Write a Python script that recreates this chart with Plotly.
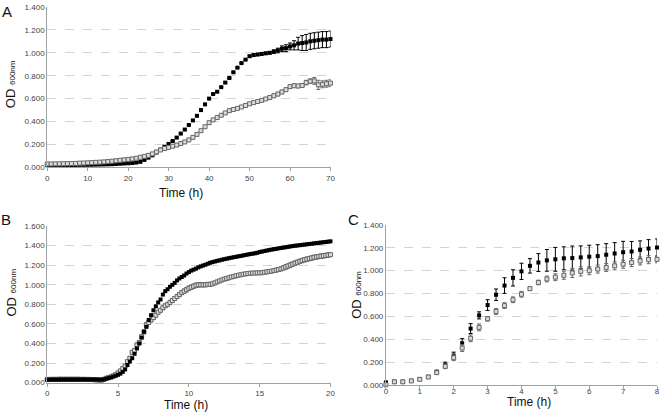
import plotly.graph_objects as go

# ---- panel A: hourly readings, 0-70 h
a_hours = list(range(0, 71))
a_black = [0.020, 0.020, 0.020, 0.020, 0.020, 0.021, 0.021, 0.021, 0.022, 0.022,
           0.022, 0.023, 0.024, 0.025, 0.026, 0.027, 0.028, 0.030, 0.032, 0.034,
           0.036, 0.038, 0.042, 0.048, 0.065, 0.085, 0.105, 0.130, 0.155, 0.180,
           0.205, 0.230, 0.260, 0.295, 0.330, 0.370, 0.410, 0.450, 0.500, 0.550,
           0.600, 0.640, 0.660, 0.700, 0.740, 0.780, 0.830, 0.870, 0.910, 0.940,
           0.970, 0.980, 0.985, 0.990, 0.995, 1.000, 1.010, 1.020, 1.035, 1.040,
           1.055, 1.065, 1.080, 1.085, 1.090, 1.100, 1.105, 1.110, 1.115, 1.115, 1.120]
a_black_err = [0.005] * 50 + [0.010] * 6 + [0.015, 0.020, 0.025, 0.030, 0.030, 0.040,
                                            0.055, 0.065, 0.070, 0.070, 0.070, 0.070,
                                            0.070, 0.070, 0.070]
a_grey = [0.030, 0.030, 0.031, 0.031, 0.032, 0.033, 0.034, 0.035, 0.037, 0.038,
          0.040, 0.042, 0.044, 0.046, 0.048, 0.051, 0.054, 0.058, 0.062, 0.066,
          0.070, 0.074, 0.080, 0.088, 0.096, 0.105, 0.118, 0.135, 0.152, 0.165,
          0.175, 0.185, 0.195, 0.208, 0.222, 0.240, 0.262, 0.288, 0.320, 0.355,
          0.390, 0.415, 0.435, 0.455, 0.475, 0.495, 0.505, 0.515, 0.527, 0.540,
          0.555, 0.565, 0.575, 0.585, 0.597, 0.610, 0.625, 0.640, 0.658, 0.678,
          0.705, 0.712, 0.710, 0.715, 0.740, 0.752, 0.755, 0.720, 0.725, 0.730, 0.735]
a_grey_err = [0.005] * 30 + [0.010] * 25 + [0.015] * 9 + [0.020, 0.020, 0.030, 0.040,
                                                          0.030, 0.030, 0.030]

# ---- panel B: readings every 10 min, 0-20 h
b_hours = [m / 60 for m in range(0, 1201, 10)]
b_black = [0.030, 0.030, 0.031, 0.031, 0.031, 0.031, 0.032, 0.032, 0.032, 0.032,
           0.032, 0.032, 0.032, 0.032, 0.032, 0.032, 0.032, 0.032, 0.032, 0.032,
           0.032, 0.031, 0.031, 0.031, 0.032, 0.040, 0.046, 0.053, 0.062, 0.070,
           0.080, 0.092, 0.110, 0.135, 0.180, 0.215, 0.250, 0.295, 0.350, 0.400,
           0.460, 0.520, 0.570, 0.640, 0.690, 0.740, 0.780, 0.820, 0.850, 0.900,
           0.935, 0.955, 0.980, 1.000, 1.020, 1.045, 1.065, 1.080, 1.095, 1.115,
           1.130, 1.145, 1.155, 1.165, 1.178, 1.188, 1.197, 1.205, 1.215, 1.225,
           1.232, 1.238, 1.245, 1.250, 1.256, 1.262, 1.267, 1.272, 1.277, 1.282,
           1.286, 1.291, 1.295, 1.300, 1.305, 1.310, 1.314, 1.318, 1.322, 1.327,
           1.335, 1.340, 1.345, 1.350, 1.355, 1.360, 1.364, 1.368, 1.372, 1.376,
           1.380, 1.384, 1.388, 1.392, 1.396, 1.399, 1.402, 1.405, 1.408, 1.411,
           1.414, 1.417, 1.420, 1.423, 1.426, 1.429, 1.432, 1.435, 1.438, 1.441,
           1.444]
b_grey = [0.033, 0.033, 0.034, 0.034, 0.034, 0.035, 0.035, 0.035, 0.035, 0.035,
          0.035, 0.035, 0.035, 0.035, 0.034, 0.034, 0.034, 0.033, 0.033, 0.032,
          0.030, 0.028, 0.026, 0.025, 0.035, 0.045, 0.052, 0.060, 0.070, 0.082,
          0.100, 0.120, 0.145, 0.170, 0.215, 0.250, 0.310, 0.330, 0.385, 0.410,
          0.470, 0.520, 0.590, 0.615, 0.640, 0.665, 0.690, 0.720, 0.740, 0.765,
          0.785, 0.800, 0.820, 0.840, 0.860, 0.880, 0.900, 0.920, 0.935, 0.950,
          0.965, 0.975, 0.985, 0.995, 1.000, 1.000, 1.000, 1.000, 1.005, 1.005,
          1.010, 1.020, 1.030, 1.040, 1.050, 1.058, 1.065, 1.072, 1.080, 1.086,
          1.092, 1.098, 1.103, 1.108, 1.112, 1.116, 1.118, 1.120, 1.120, 1.122,
          1.122, 1.124, 1.128, 1.132, 1.136, 1.140, 1.145, 1.150, 1.156, 1.163,
          1.172, 1.182, 1.192, 1.202, 1.212, 1.222, 1.230, 1.240, 1.248, 1.256,
          1.262, 1.268, 1.274, 1.280, 1.285, 1.289, 1.293, 1.297, 1.300, 1.304,
          1.308]
b_grey_err = [0.004] * 20 + [0.006] * 10 + [
    0.010, 0.010, 0.012, 0.012, 0.015, 0.015, 0.018, 0.018, 0.020, 0.020,
    0.020, 0.020, 0.025, 0.020, 0.020, 0.020, 0.020, 0.018, 0.018, 0.018,
    0.018, 0.018, 0.018, 0.020, 0.020, 0.020, 0.020, 0.020, 0.022, 0.022,
    0.022, 0.022, 0.022, 0.022, 0.022, 0.020, 0.020, 0.020, 0.018, 0.018,
    0.015, 0.015, 0.012, 0.012, 0.012, 0.012, 0.010, 0.010, 0.010, 0.010,
    0.010, 0.010, 0.010, 0.010, 0.012, 0.012, 0.012, 0.012, 0.012, 0.012,
    0.012, 0.012, 0.015, 0.015, 0.015, 0.015, 0.018, 0.018, 0.020, 0.020,
    0.020, 0.022, 0.022, 0.022, 0.022, 0.022, 0.022, 0.022, 0.022, 0.022] + [0.022] * 11

# ---- panel C: readings every 15 min, 0-8 h
c_hours = [q / 4 for q in range(0, 33)]
c_black = [0.025, 0.032, 0.032, 0.040, 0.055, 0.074, 0.117, 0.177, 0.259, 0.367,
           0.495, 0.610, 0.700, 0.790, 0.870, 0.937, 0.994, 1.042, 1.071, 1.090,
           1.099, 1.108, 1.110, 1.116, 1.122, 1.127, 1.139, 1.150, 1.161, 1.167,
           1.182, 1.193, 1.202]
c_black_err = [0.010, 0.010, 0.010, 0.010, 0.010, 0.012, 0.015, 0.025, 0.030, 0.040,
               0.043, 0.031, 0.047, 0.050, 0.068, 0.071, 0.071, 0.063, 0.078, 0.095,
               0.104, 0.100, 0.105, 0.100, 0.100, 0.100, 0.097, 0.095, 0.095, 0.088,
               0.078, 0.078, 0.075]
c_grey = [0.005, 0.030, 0.030, 0.038, 0.052, 0.072, 0.110, 0.165, 0.240, 0.325,
          0.410, 0.505, 0.580, 0.644, 0.695, 0.746, 0.794, 0.843, 0.897, 0.928,
          0.943, 0.960, 0.980, 0.994, 1.000, 1.014, 1.028, 1.042, 1.056, 1.071,
          1.085, 1.096, 1.099]
c_grey_err = [0.008, 0.008, 0.008, 0.008, 0.008, 0.010, 0.012, 0.020, 0.025, 0.030,
              0.030, 0.030, 0.020, 0.025, 0.025, 0.025, 0.025, 0.015, 0.020, 0.025,
              0.030, 0.035, 0.040, 0.040, 0.035, 0.035, 0.035, 0.035, 0.035, 0.035,
              0.035, 0.035, 0.030]

W, H = 664, 417
FONT = 'Liberation Sans, Arial, sans-serif'


def px_x(p):
    return p / W


def px_y(p):
    return 1 - p / H


def add_series(fig, x, y, err, xa, ya, filled):
    if filled:
        marker = dict(symbol='square', size=4, color='#000000')
        ecol = '#000000'
    else:
        marker = dict(symbol='square', size=4, color='#dcdcdc',
                      line=dict(color='#666666', width=1))
        ecol = '#6a6a6a'
    ey = dict(type='data', array=err, visible=True, color=ecol,
              thickness=1, width=2) if err is not None else None
    fig.add_trace(go.Scatter(x=x, y=y, mode='markers', marker=marker,
                             error_y=ey, xaxis=xa, yaxis=ya,
                             cliponaxis=False, showlegend=False))


fig = go.Figure()
add_series(fig, a_hours, a_black, a_black_err, 'x', 'y', True)
add_series(fig, a_hours, a_grey, a_grey_err, 'x', 'y', False)
add_series(fig, b_hours, b_grey, b_grey_err, 'x2', 'y2', False)
add_series(fig, b_hours, b_black, None, 'x2', 'y2', True)
add_series(fig, c_hours, c_black, c_black_err, 'x3', 'y3', True)
add_series(fig, c_hours, c_grey, c_grey_err, 'x3', 'y3', False)

xcommon = dict(showline=True, linecolor='#a0a0a0', linewidth=1, ticks='outside',
               ticklen=3, tickcolor='#a0a0a0', showgrid=False, zeroline=False,
               tickfont=dict(family=FONT, size=8, color='#444'))
ycommon = dict(showline=True, linecolor='#a0a0a0', linewidth=1, ticks='',
               showgrid=True, gridcolor='#d4d4d4', griddash='dash', gridwidth=1,
               zeroline=False, tickformat='.3f', dtick=0.2,
               tickfont=dict(family=FONT, size=8, color='#444'))

fig.update_layout(
    width=W, height=H,
    margin=dict(l=0, r=0, t=0, b=0),
    paper_bgcolor='white', plot_bgcolor='white',
    showlegend=False,
    xaxis=dict(xcommon, domain=[px_x(45.7), px_x(332)], range=[0, 70], dtick=10, anchor='y'),
    yaxis=dict(ycommon, domain=[px_y(167), px_y(3)], range=[0, 1.4], anchor='x'),
    xaxis2=dict(xcommon, domain=[px_x(45.7), px_x(332)], range=[0, 20], dtick=5, anchor='y2'),
    yaxis2=dict(ycommon, domain=[px_y(387), px_y(227)], range=[0, 1.6], anchor='x2'),
    xaxis3=dict(xcommon, domain=[px_x(388), px_x(662)], range=[0, 8], dtick=1, anchor='y3',
                ticklabelstandoff=-5),
    yaxis3=dict(ycommon, domain=[px_y(389.7), px_y(225.7)], range=[0, 1.4], anchor='x3'),
)

ytitle = "OD <span style='font-size:8px'>600nm</span>"
notes = [
    # panel letters
    dict(text='A', x=5, y=8, size=15, angle=0),
    dict(text='B', x=4, y=220, size=15, angle=0),
    dict(text='C', x=355, y=220, size=15, angle=0),
    # axis titles
    dict(text='Time (h)', x=181, y=193, size=12, angle=0),
    dict(text='Time (h)', x=186, y=409.5, size=12, angle=0),
    dict(text='Time (h)', x=533, y=407, size=12, angle=0),
    dict(text=ytitle, x=8, y=82, size=13, angle=-90),
    dict(text=ytitle, x=10, y=295, size=13, angle=-90),
    dict(text=ytitle, x=358, y=297, size=13, angle=-90),
]
for n in notes:
    fig.add_annotation(text=n['text'], x=px_x(n['x']), y=px_y(n['y']),
                       xref='paper', yref='paper', xanchor='center', yanchor='middle',
                       showarrow=False, textangle=n['angle'],
                       font=dict(family=FONT, size=n['size'], color='#111'))

# the page's default body margin would push the figure 8px off the corner
fig.write_html("out.html", config={'displayModeBar': False},
               post_script="document.body.style.margin='0';")
